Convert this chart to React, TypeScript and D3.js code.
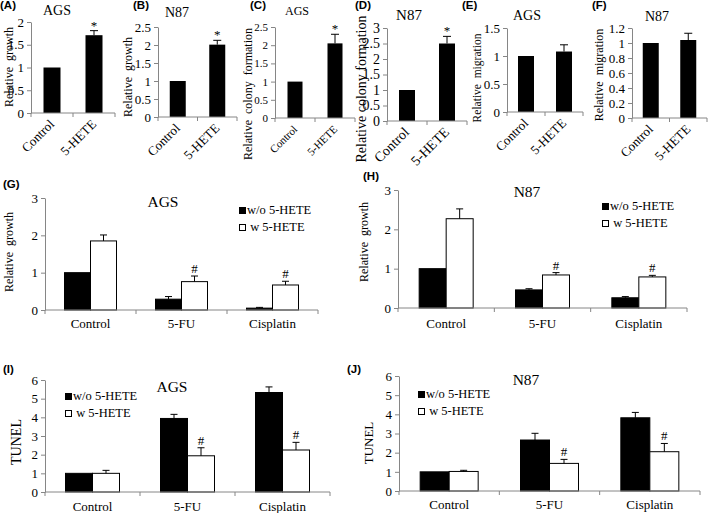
import React, { useEffect, useRef } from 'react';
import * as d3 from 'd3';

// categorias e valores
const pairCats = ['Control', '5-HETE'];
const growthAGS = [1, 1.71];
const growthAGSErr = [0, 0.1];
const growthN87 = [1, 2.01];
const growthN87Err = [0, 0.12];
const colonyAGS = [1, 2.05];
const colonyAGSErr = [0, 0.25];
const colonyN87 = [1, 2.5];
const colonyN87Err = [0, 0.23];
const migrationAGS = [1, 1.08];
const migrationAGSErr = [0, 0.12];
const migrationN87 = [1, 1.04];
const migrationN87Err = [0, 0.09];
const starMarks = ['', '*'];
const noMarks = ['', ''];

const drugCats = ['Control', '5-FU', 'Cisplatin'];
const seriesNames = ['w/o 5-HETE', ' w 5-HETE'];
const drugMarks = ['', '#', '#'];

const growthAGSWithout = [1.0, 0.29, 0.05];
const growthAGSWithoutErr = [0, 0.07, 0.02];
const growthAGSWith = [1.85, 0.76, 0.67];
const growthAGSWithErr = [0.16, 0.15, 0.1];

const growthN87Without = [1.0, 0.46, 0.26];
const growthN87WithoutErr = [0, 0.03, 0.03];
const growthN87With = [2.27, 0.84, 0.79];
const growthN87WithErr = [0.25, 0.06, 0.04];

const tunelAGSWithout = [1.0, 3.94, 5.33];
const tunelAGSWithoutErr = [0, 0.22, 0.3];
const tunelAGSWith = [1.0, 1.94, 2.25];
const tunelAGSWithErr = [0.16, 0.43, 0.41];

const tunelN87Without = [1.0, 2.66, 3.82];
const tunelN87WithoutErr = [0, 0.35, 0.28];
const tunelN87With = [1.02, 1.44, 2.05];
const tunelN87WithErr = [0.06, 0.21, 0.43];

const SERIF = "'Liberation Serif', 'Times New Roman', serif";
const SANS = "'Liberation Sans', Arial, sans-serif";
const AXIS = '#868686';

const smallPanels = [
  { letter: '(A)', lx: 0, ly: 9, title: 'AGS', tx: 57, ty: 15, ylabel: 'Relative  growth', ylx: 9, yly: 67, yf: 12,
    x0: 31, x1: 115, yb: 113, yt: 22, max: 2, step: 0.5, bw: 17, font: 13, values: growthAGS, errs: growthAGSErr, marks: starMarks },
  { letter: '(B)', lx: 133, ly: 9, title: 'N87', tx: 177, ty: 17, ylabel: 'Relative  growth', ylx: 128, yly: 77, yf: 12,
    x0: 158, x1: 237, yb: 117, yt: 27, max: 2.5, step: 0.5, bw: 16, font: 13, values: growthN87, errs: growthN87Err, marks: starMarks },
  { letter: '(C)', lx: 250, ly: 9, title: 'AGS', tx: 297, ty: 15, ylabel: 'Relative  colony  formation', ylx: 248, yly: 94, yf: 12,
    x0: 275, x1: 355, yb: 118, yt: 27, max: 2.5, step: 0.5, bw: 15, font: 11, values: colonyAGS, errs: colonyAGSErr, marks: starMarks },
  { letter: '(D)', lx: 355, ly: 9, title: 'N87', tx: 409, ty: 20, ylabel: 'Relative colony formation', ylx: 361, yly: 89, yf: 14,
    x0: 387, x1: 467, yb: 121, yt: 28, max: 3, step: 0.5, bw: 16, font: 14, values: colonyN87, errs: colonyN87Err, marks: starMarks },
  { letter: '(E)', lx: 462, ly: 9, title: 'AGS', tx: 527, ty: 20, ylabel: 'Relative  migration', ylx: 477, yly: 78, yf: 11.5,
    x0: 507, x1: 583, yb: 112, yt: 28, max: 1.5, step: 0.5, bw: 16, font: 13, values: migrationAGS, errs: migrationAGSErr, marks: noMarks },
  { letter: '(F)', lx: 592, ly: 9, title: 'N87', tx: 657, ty: 21, ylabel: 'Relative  migration', ylx: 599, yly: 75, yf: 12,
    x0: 632, x1: 707, yb: 118, yt: 28, max: 1.2, step: 0.2, bw: 16, font: 13, values: migrationN87, errs: migrationN87Err, marks: noMarks },
];

const groupPanels = [
  { letter: '(G)', lx: 3, ly: 188, title: 'AGS', tx: 163, ty: 207, ylabel: 'Relative  growth', ylx: 9, yly: 252, yf: 12,
    x0: 45, x1: 318, yb: 310, yt: 198, max: 3, bw: 26, catY: 328, legX: 239, legY: 207,
    without: growthAGSWithout, withoutErr: growthAGSWithoutErr, with: growthAGSWith, withErr: growthAGSWithErr },
  { letter: '(H)', lx: 363, ly: 180, title: 'N87', tx: 527, ty: 197, ylabel: 'Relative  growth', ylx: 364, yly: 242, yf: 12,
    x0: 398, x1: 687, yb: 308, yt: 190, max: 3, bw: 27, catY: 328, legX: 602, legY: 203,
    without: growthN87Without, withoutErr: growthN87WithoutErr, with: growthN87With, withErr: growthN87WithErr },
  { letter: '(I)', lx: 3, ly: 373, title: 'AGS', tx: 172, ty: 392, ylabel: 'TUNEL', ylx: 16, yly: 442, yf: 14,
    x0: 45, x1: 330, yb: 492, yt: 380, max: 6, bw: 27, catY: 511, legX: 65, legY: 393,
    without: tunelAGSWithout, withoutErr: tunelAGSWithoutErr, with: tunelAGSWith, withErr: tunelAGSWithErr },
  { letter: '(J)', lx: 347, ly: 373, title: 'N87', tx: 526, ty: 385, ylabel: 'TUNEL', ylx: 368, yly: 443, yf: 13,
    x0: 399, x1: 700, yb: 491, yt: 376, max: 6, bw: 29, catY: 509, legX: 418, legY: 391,
    without: tunelN87Without, withoutErr: tunelN87WithoutErr, with: tunelN87With, withErr: tunelN87WithErr },
];

const fmt = (d: number) => String(+d.toFixed(2));

function drawCommon(g: any, p: any, y: any, tickValues: number[], font: number) {
  // letra do painel
  g.append('text').attr('x', p.lx).attr('y', p.ly)
    .attr('font-family', SANS).attr('font-weight', 'bold').attr('font-size', 11.5).text(p.letter);
  // titulo
  g.append('text').attr('x', p.tx).attr('y', p.ty).attr('text-anchor', 'middle')
    .attr('font-family', SERIF).attr('font-size', p.titleSize || 14).text(p.title);
  // rotulo do eixo y
  g.append('text').attr('transform', `translate(${p.ylx},${p.yly}) rotate(-90)`)
    .attr('text-anchor', 'middle').attr('dominant-baseline', 'central')
    .attr('font-family', SERIF).attr('font-size', p.yf).style('white-space', 'pre').text(p.ylabel);

  const ax = g.append('g').attr('transform', `translate(${p.x0},0)`)
    .call(d3.axisLeft(y).tickValues(tickValues).tickSize(4).tickSizeOuter(0).tickPadding(3).tickFormat(fmt as any));
  ax.attr('font-family', SERIF).attr('font-size', font);
  ax.select('.domain').attr('stroke', AXIS);
  ax.selectAll('line').attr('stroke', AXIS);
  ax.selectAll('text').attr('fill', '#000');
}

function drawXAxis(g: any, x: any, p: any) {
  g.append('line').attr('x1', p.x0).attr('x2', p.x1).attr('y1', p.yb).attr('y2', p.yb).attr('stroke', AXIS);
  const edges = [...x.domain().map((c: string) => x(c)), p.x1];
  g.selectAll(null).data(edges).join('line')
    .attr('x1', (d: number) => d).attr('x2', (d: number) => d)
    .attr('y1', p.yb).attr('y2', p.yb + 4).attr('stroke', AXIS);
}

function errorBar(g: any, cx: number, top: number, errTop: number, cap: number) {
  if (Math.abs(top - errTop) < 0.5) return;
  g.append('line').attr('x1', cx).attr('x2', cx).attr('y1', top).attr('y2', errTop).attr('stroke', '#000');
  g.append('line').attr('x1', cx - cap / 2).attr('x2', cx + cap / 2).attr('y1', errTop).attr('y2', errTop).attr('stroke', '#000');
}

function drawSmall(svg: any, p: any) {
  const g = svg.append('g');
  const x = d3.scaleBand().domain(pairCats).range([p.x0, p.x1]);
  const y = d3.scaleLinear().domain([0, p.max]).range([p.yb, p.yt]);
  drawCommon(g, { ...p, titleSize: p.font + 1 }, y, d3.range(0, p.max + 1e-6, p.step), p.font);

  pairCats.forEach((c, i) => {
    const cx = (x(c) as number) + x.bandwidth() / 2;
    g.append('rect').attr('x', cx - p.bw / 2).attr('y', y(p.values[i]))
      .attr('width', p.bw).attr('height', p.yb - y(p.values[i])).attr('fill', '#000');
    const et = y(p.values[i] + p.errs[i]);
    errorBar(g, cx, y(p.values[i]), et, 8);
    if (p.marks[i]) {
      g.append('text').attr('x', cx).attr('y', et - 1).attr('text-anchor', 'middle')
        .attr('font-family', SERIF).attr('font-size', 13).text(p.marks[i]);
    }
  });
  drawXAxis(g, x, p);
  pairCats.forEach(c => {
    const cx = (x(c) as number) + x.bandwidth() / 2;
    g.append('text').attr('transform', `translate(${cx + 3},${p.yb + 12}) rotate(-45)`)
      .attr('text-anchor', 'end').attr('font-family', SERIF).attr('font-size', p.font).text(c);
  });
}

function drawGrouped(svg: any, p: any) {
  const g = svg.append('g');
  const x = d3.scaleBand().domain(drugCats).range([p.x0, p.x1]);
  const y = d3.scaleLinear().domain([0, p.max]).range([p.yb, p.yt]);
  const sub = d3.scaleBand().domain(['without', 'with']).range([-p.bw, p.bw]);
  drawCommon(g, { ...p, titleSize: 15.5 }, y, d3.range(0, p.max + 1e-6, 1), 13);

  drugCats.forEach((c, i) => {
    const cx = (x(c) as number) + x.bandwidth() / 2;
    const series = [
      { key: 'without', v: p.without[i], e: p.withoutErr[i], fill: '#000' },
      { key: 'with', v: p.with[i], e: p.withErr[i], fill: '#fff' },
    ];
    series.forEach(s => {
      const bx = cx + (sub(s.key) as number);
      g.append('rect').attr('x', bx).attr('y', y(s.v)).attr('width', p.bw).attr('height', p.yb - y(s.v))
        .attr('fill', s.fill).attr('stroke', '#000').attr('stroke-width', 1);
      const et = y(s.v + s.e);
      errorBar(g, bx + p.bw / 2, y(s.v), et, 7);
      if (s.key === 'with' && drugMarks[i]) {
        g.append('text').attr('x', bx + p.bw / 2).attr('y', et - 3).attr('text-anchor', 'middle')
          .attr('font-family', SERIF).attr('font-size', 13).text(drugMarks[i]);
      }
    });
    g.append('text').attr('x', cx).attr('y', p.catY).attr('text-anchor', 'middle')
      .attr('font-family', SERIF).attr('font-size', 13).text(c);
  });
  drawXAxis(g, x, p);

  // legenda
  seriesNames.forEach((name, i) => {
    const ly = p.legY + i * 17;
    g.append('rect').attr('x', p.legX + 0.5).attr('y', ly + 0.5).attr('width', 6).attr('height', 6)
      .attr('fill', i === 0 ? '#000' : '#fff').attr('stroke', '#000');
    g.append('text').attr('x', p.legX + 8).attr('y', ly + 7).style('white-space', 'pre')
      .attr('font-family', SERIF).attr('font-size', 12.5).text(name);
  });
}

const App = () => {
  const ref = useRef<SVGSVGElement>(null);

  useEffect(() => {
    const svg = d3.select(ref.current);
    svg.selectAll('*').remove();
    svg.append('rect').attr('width', 709).attr('height', 513).attr('fill', '#fff');
    smallPanels.forEach(p => drawSmall(svg, p));
    groupPanels.forEach(p => drawGrouped(svg, p));
  }, []);

  return (
    <svg ref={ref} width={709} height={513}
      style={{ position: 'absolute', left: 0, top: 0, display: 'block' }} />
  );
};

export default App;
